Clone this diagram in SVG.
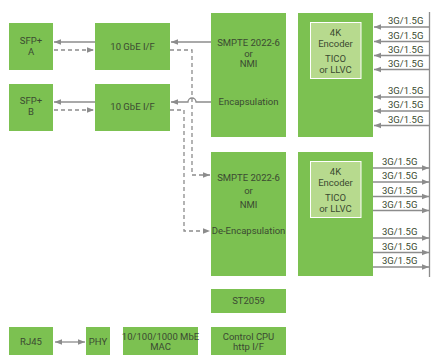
<svg xmlns="http://www.w3.org/2000/svg" width="431" height="356" viewBox="0 0 431 356">
<defs>
<style>
.box{fill:#7cc151}
.inner{fill:#b7da8e;stroke:#ffffff;stroke-width:1}
text{font-family:Roboto,"Liberation Sans",Arial,sans-serif;font-size:9.5px;fill:#3b4a31;text-anchor:middle}
.lbl{text-anchor:start}
.ln{stroke:#8c8c8c;stroke-width:1.3;fill:none}
.dash{stroke-dasharray:4 3}
</style>
<marker id="ah" viewBox="0 0 10 10" refX="10" refY="5" markerWidth="7" markerHeight="7" markerUnits="userSpaceOnUse" orient="auto-start-reverse">
<path d="M0,1 L10,5 L0,9 Z" fill="#8c8c8c"/>
</marker>
</defs>
<rect width="431" height="356" fill="#ffffff"/>

<g id="sfpA"><rect class="box" x="9" y="23" width="44" height="47"/><text x="31" y="44">SFP+</text><text x="31" y="55">A</text></g>
<g id="sfpB"><rect class="box" x="9" y="84" width="44" height="47"/><text x="31" y="104">SFP+</text><text x="31" y="115">B</text></g>
<g id="gbeA"><rect class="box" x="95" y="23" width="75" height="47"/><text x="132.5" y="49.5">10 GbE I/F</text></g>
<g id="gbeB"><rect class="box" x="95" y="84" width="75" height="47"/><text x="132.5" y="109.5">10 GbE I/F</text></g>

<g id="smpteEnc"><rect class="box" x="211" y="13" width="75" height="124"/>
<text x="248.5" y="46">SMPTE 2022-6</text><text x="248.5" y="57">or</text><text x="248.5" y="67">NMI</text><text x="248.5" y="105">Encapsulation</text></g>
<g id="smpteDec"><rect class="box" x="211" y="152" width="75" height="124"/>
<text x="248.5" y="181">SMPTE 2022-6</text><text x="248.5" y="194">or</text><text x="248.5" y="208">NMI</text><text x="248.5" y="234">De-Encapsulation</text></g>

<g id="enc1"><rect class="box" x="298" y="13" width="75" height="124"/>
<rect class="inner" x="310.5" y="22.5" width="50.5" height="56"/>
<text x="335.5" y="36">4K</text><text x="335.5" y="46.5">Encoder</text><text x="335.5" y="62">TICO</text><text x="335.5" y="73">or LLVC</text></g>
<g id="enc2"><rect class="box" x="298" y="152" width="75" height="124"/>
<rect class="inner" x="310.5" y="161.5" width="50.5" height="56"/>
<text x="335.5" y="175">4K</text><text x="335.5" y="185.5">Encoder</text><text x="335.5" y="201">TICO</text><text x="335.5" y="212">or LLVC</text></g>

<g id="st2059"><rect class="box" x="211" y="289" width="75" height="24"/><text x="248.5" y="304">ST2059</text></g>
<g id="rj45"><rect class="box" x="9" y="327" width="44" height="28"/><text x="31" y="345">RJ45</text></g>
<g id="phy"><rect class="box" x="86" y="327" width="24" height="28"/><text x="98" y="345">PHY</text></g>
<g id="mac"><rect class="box" x="123" y="327" width="75" height="28"/><text x="160.5" y="340">10/100/1000 MbE</text><text x="160.5" y="350">MAC</text></g>
<g id="cpu"><rect class="box" x="211" y="327" width="75" height="28"/><text x="248.5" y="340">Control CPU</text><text x="248.5" y="350">http I/F</text></g>

<g id="connectors">
<line class="ln" x1="95" y1="42" x2="54" y2="42" marker-end="url(#ah)"/>
<line class="ln dash" x1="54" y1="50" x2="94" y2="50" marker-end="url(#ah)"/>
<line class="ln" x1="95" y1="102" x2="54" y2="102" marker-end="url(#ah)"/>
<line class="ln dash" x1="54" y1="110" x2="94" y2="110" marker-end="url(#ah)"/>
<line class="ln" x1="211" y1="42" x2="171" y2="42" marker-end="url(#ah)"/>
<path class="ln" d="M211,102 H196 A4,4 0 0 0 188,102 H171" marker-end="url(#ah)"/>
<path class="ln dash" d="M170,50 H192 V175 H210" marker-end="url(#ah)"/>
<path class="ln dash" d="M170,110 H184 V231 H210" marker-end="url(#ah)"/>
<line class="ln" x1="55" y1="342" x2="85" y2="342" marker-start="url(#ah)" marker-end="url(#ah)"/>

<line class="ln" x1="429.5" y1="12" x2="429.5" y2="277"/>
<line class="ln" x1="429.5" y1="27" x2="374" y2="27" marker-end="url(#ah)"/>
<line class="ln" x1="429.5" y1="41.5" x2="374" y2="41.5" marker-end="url(#ah)"/>
<line class="ln" x1="429.5" y1="55.5" x2="374" y2="55.5" marker-end="url(#ah)"/>
<line class="ln" x1="429.5" y1="69.5" x2="374" y2="69.5" marker-end="url(#ah)"/>
<line class="ln" x1="429.5" y1="97" x2="374" y2="97" marker-end="url(#ah)"/>
<line class="ln" x1="429.5" y1="111" x2="374" y2="111" marker-end="url(#ah)"/>
<line class="ln" x1="429.5" y1="125.5" x2="374" y2="125.5" marker-end="url(#ah)"/>
<line class="ln" x1="373" y1="168" x2="429" y2="168" marker-end="url(#ah)"/>
<line class="ln" x1="373" y1="182" x2="429" y2="182" marker-end="url(#ah)"/>
<line class="ln" x1="373" y1="196.5" x2="429" y2="196.5" marker-end="url(#ah)"/>
<line class="ln" x1="373" y1="210.5" x2="429" y2="210.5" marker-end="url(#ah)"/>
<line class="ln" x1="373" y1="238" x2="429" y2="238" marker-end="url(#ah)"/>
<line class="ln" x1="373" y1="252.5" x2="429" y2="252.5" marker-end="url(#ah)"/>
<line class="ln" x1="373" y1="267" x2="429" y2="267" marker-end="url(#ah)"/>
</g>

<g id="labels">
<text class="lbl" x="388" y="24">3G/1.5G</text>
<text class="lbl" x="388" y="38.5">3G/1.5G</text>
<text class="lbl" x="388" y="52.5">3G/1.5G</text>
<text class="lbl" x="388" y="66.5">3G/1.5G</text>
<text class="lbl" x="388" y="94">3G/1.5G</text>
<text class="lbl" x="388" y="108">3G/1.5G</text>
<text class="lbl" x="388" y="122.5">3G/1.5G</text>
<text class="lbl" x="382" y="165">3G/1.5G</text>
<text class="lbl" x="382" y="179">3G/1.5G</text>
<text class="lbl" x="382" y="193.5">3G/1.5G</text>
<text class="lbl" x="382" y="207.5">3G/1.5G</text>
<text class="lbl" x="382" y="235">3G/1.5G</text>
<text class="lbl" x="382" y="249.5">3G/1.5G</text>
<text class="lbl" x="382" y="264">3G/1.5G</text>
</g>
</svg>
